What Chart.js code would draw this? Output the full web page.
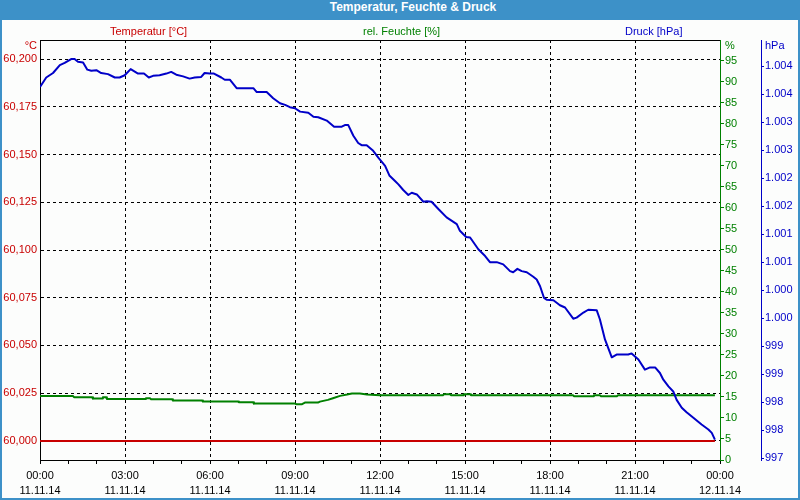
<!DOCTYPE html>
<html>
<head>
<meta charset="utf-8">
<script src="https://cdn.jsdelivr.net/npm/chart.js@4"></script>
<style>
html,body{margin:0;padding:0;background:#3d91c8;}
#frame{position:relative;width:800px;height:500px;background:#3d91c8;overflow:hidden;}
#title{position:absolute;left:0;top:0;width:800px;height:20px;line-height:20px;text-align:center;color:#fff;
  font:bold 12px "Liberation Sans",Arial,sans-serif;padding-left:26px;box-sizing:border-box;}
#plot{position:absolute;left:2px;top:20px;width:796px;height:478px;background:#fcfdfc;}
canvas{display:block;}
</style>
</head>
<body>
<div id="frame">
  <div id="title">Temperatur, Feuchte &amp; Druck</div>
  <div id="plot"><canvas id="c" width="796" height="478"></canvas></div>
</div>
<script>
// ---- tick labels ----
const xTimeLabels = ['00:00','03:00','06:00','09:00','12:00','15:00','18:00','21:00','00:00'];
const xDateLabels = ['11.11.14','11.11.14','11.11.14','11.11.14','11.11.14','11.11.14','11.11.14','11.11.14','12.11.14'];

// ---- series: temperature (°C) ----
const tempTimes  = [0, 23.82];
const tempValues = [60.000, 60.000];

// ---- series: relative humidity (%) ----
const humTimes = [0.00,1.16,1.20,1.84,1.87,2.19,2.22,2.33,2.36,3.71,3.74,3.88,3.92,4.66,4.69,5.72,5.75,6.99,7.02,7.52,7.55,9.00,9.04,9.25,9.35,9.81,9.88,10.16,10.34,10.59,10.84,11.01,11.29,11.54,12.00,14.22,14.26,14.47,14.51,14.93,14.96,15.18,15.21,18.81,18.85,19.52,19.55,19.76,19.80,20.36,20.40,23.82];
const humValues = [15.25,15.25,14.94,14.94,14.60,14.60,14.94,14.94,14.53,14.53,14.70,14.70,14.46,14.46,14.13,14.13,13.89,13.89,13.75,13.75,13.41,13.41,13.27,13.27,13.65,13.65,13.89,14.30,14.70,15.25,15.56,15.80,15.80,15.56,15.41,15.41,15.65,15.65,15.41,15.41,15.65,15.65,15.41,15.41,15.18,15.18,15.41,15.41,15.18,15.18,15.41,15.41];

// ---- series: pressure (hPa) ----
const pressTimes = [0.00,0.22,0.46,0.70,0.87,1.10,1.22,1.34,1.52,1.67,1.81,1.99,2.16,2.40,2.64,2.81,2.99,3.20,3.46,3.67,3.84,3.99,4.22,4.46,4.63,4.81,5.05,5.28,5.46,5.69,5.81,5.99,6.14,6.40,6.52,6.70,6.94,7.53,7.65,8.00,8.23,8.47,8.65,8.82,9.00,9.18,9.47,9.65,9.82,10.12,10.38,10.65,10.76,10.88,11.06,11.23,11.35,11.53,11.76,11.94,12.18,12.33,12.53,12.65,12.82,13.00,13.12,13.30,13.53,13.65,13.82,14.06,14.35,14.59,14.71,14.82,15.04,15.18,15.47,15.71,15.88,16.12,16.35,16.59,16.70,16.85,17.00,17.18,17.41,17.53,17.65,17.79,17.88,18.12,18.35,18.53,18.82,18.94,19.18,19.35,19.65,19.76,19.94,20.18,20.35,20.76,20.88,21.12,21.35,21.53,21.71,21.88,22.00,22.18,22.35,22.47,22.65,22.82,23.06,23.35,23.59,23.71,23.82];
const pressValues = [1003.63,1003.80,1003.88,1004.02,1004.06,1004.13,1004.13,1004.08,1004.07,1003.94,1003.92,1003.93,1003.88,1003.86,1003.80,1003.80,1003.84,1003.95,1003.87,1003.87,1003.80,1003.83,1003.84,1003.87,1003.90,1003.85,1003.82,1003.78,1003.80,1003.81,1003.88,1003.87,1003.87,1003.80,1003.76,1003.76,1003.61,1003.61,1003.54,1003.54,1003.43,1003.34,1003.31,1003.27,1003.25,1003.19,1003.17,1003.10,1003.09,1003.03,1002.92,1002.92,1002.95,1002.95,1002.76,1002.63,1002.59,1002.59,1002.49,1002.37,1002.22,1002.05,1001.95,1001.89,1001.79,1001.70,1001.74,1001.71,1001.58,1001.59,1001.58,1001.45,1001.30,1001.22,1001.18,1001.06,1000.95,1000.94,1000.73,1000.61,1000.50,1000.50,1000.46,1000.34,1000.32,1000.38,1000.34,1000.32,1000.24,1000.19,1000.07,999.86,999.83,999.82,999.73,999.69,999.49,999.51,999.60,999.65,999.64,999.48,999.12,998.80,998.85,998.85,998.87,998.76,998.58,998.62,998.62,998.52,998.40,998.28,998.19,998.04,997.90,997.82,997.72,997.60,997.51,997.45,997.33];

const RED = '#c80000', GREEN = '#008000', BLUE = '#0000c8';
const toXY = (xs, ys) => xs.map((x, i) => ({x: x, y: ys[i]}));
const fmtTemp = v => v.toFixed(3).replace('.', ',');
const fmtPress = v => {
  const n = Math.round(v);
  return n >= 1000 ? Math.floor(n / 1000) + '.' + String(n % 1000).padStart(3, '0') : String(n);
};

Chart.defaults.font.family = "'Liberation Sans', Arial, sans-serif";
Chart.defaults.font.size = 11;

const headerPlugin = {
  id: 'headerTexts',
  afterDraw(chart, args, opts) {
    const {ctx, chartArea, scales} = chart;
    ctx.save();
    ctx.font = "11px 'Liberation Sans', Arial, sans-serif";
    ctx.textBaseline = 'middle';
    ctx.textAlign = 'left';
    chart.data.datasets.forEach((ds, i) => {
      ctx.fillStyle = ds.borderColor;
      ctx.fillText(ds.label, chartArea.left + opts.offsets[i], chartArea.top - opts.gap);
    });
    const uy = chartArea.top + 6;
    ctx.fillStyle = RED; ctx.textAlign = 'right';
    ctx.fillText('°C', scales.yT.right - 3, uy);
    ctx.fillStyle = GREEN; ctx.textAlign = 'left';
    ctx.fillText('%', scales.yH.left + 5, uy);
    ctx.fillStyle = BLUE;
    ctx.fillText('hPa', scales.yP.left + 4, uy);
    ctx.restore();
  }
};

new Chart(document.getElementById('c'), {
  type: 'line',
  data: {
    datasets: [
      {label: 'Temperatur [°C]', data: toXY(tempTimes, tempValues), yAxisID: 'yT', xAxisID: 'x',
       borderColor: RED, backgroundColor: RED, borderWidth: 2, pointRadius: 0, order: 3},
      {label: 'rel. Feuchte [%]', data: toXY(humTimes, humValues), yAxisID: 'yH', xAxisID: 'x',
       borderColor: GREEN, backgroundColor: GREEN, borderWidth: 2, pointRadius: 0, order: 2},
      {label: 'Druck [hPa]', data: toXY(pressTimes, pressValues), yAxisID: 'yP', xAxisID: 'x',
       borderColor: BLUE, backgroundColor: BLUE, borderWidth: 2, pointRadius: 0, order: 1}
    ]
  },
  plugins: [headerPlugin],
  options: {
    responsive: false,
    animation: false,
    layout: {padding: {top: 20, left: 0, right: 0, bottom: 0}},
    elements: {line: {tension: 0, borderJoinStyle: 'round'}},
    plugins: {
      legend: {display: false},
      tooltip: {enabled: false},
      title: {display: false},
      headerTexts: {offsets: [70, 323, 585], gap: 8}
    },
    scales: {
      x: {
        type: 'linear', position: 'bottom', min: 0, max: 24,
        ticks: {
          stepSize: 1, autoSkip: false, maxRotation: 0, padding: 5, color: '#000',
          font: {size: 11, lineHeight: 1.32},
          callback: v => (v % 3 === 0) ? [xTimeLabels[v / 3], xDateLabels[v / 3]] : ''
        },
        grid: {
          color: c => (c.tick && c.tick.value % 3 === 0 && c.tick.value > 0 && c.tick.value < 24) ? '#000' : 'rgba(0,0,0,0)',
          tickColor: '#000', tickLength: 4, lineWidth: 1
        },
        border: {display: true, color: '#000', width: 1, dash: [3, 3]},
        afterFit: s => { s.height = 38; }
      },
      xTop: {
        type: 'linear', position: 'top', min: 0, max: 24,
        ticks: {display: false},
        grid: {display: false, drawTicks: false},
        border: {display: true, color: '#000', width: 1},
        afterFit: s => { s.height = 0; }
      },
      yT: {
        type: 'linear', position: 'left', min: 59.99, max: 60.21,
        ticks: {stepSize: 0.025, includeBounds: false, autoSkip: false, padding: 3, color: RED, callback: v => fmtTemp(v)},
        grid: {color: '#000', drawTicks: false, lineWidth: 1},
        border: {display: true, color: '#000', width: 1, dash: [3, 3]},
        afterFit: s => { s.width = 38; }
      },
      yH: {
        type: 'linear', position: 'right', weight: 0, min: 0, max: 99.9,
        ticks: {stepSize: 5, includeBounds: false, autoSkip: false, padding: 1, color: GREEN},
        grid: {drawOnChartArea: false, color: GREEN, tickColor: GREEN, tickLength: 4},
        border: {display: true, color: GREEN, width: 1},
        afterFit: s => { s.width = 41; }
      },
      yP: {
        type: 'linear', position: 'right', weight: 1, min: 996.965, max: 1004.47,
        ticks: {stepSize: 0.5, includeBounds: false, autoSkip: false, padding: 1, color: BLUE, callback: v => fmtPress(v)},
        grid: {drawOnChartArea: false, color: BLUE, tickColor: BLUE, tickLength: 3},
        border: {display: true, color: BLUE, width: 1},
        afterFit: s => { s.width = 37; }
      }
    }
  }
});
</script>
</body>
</html>
